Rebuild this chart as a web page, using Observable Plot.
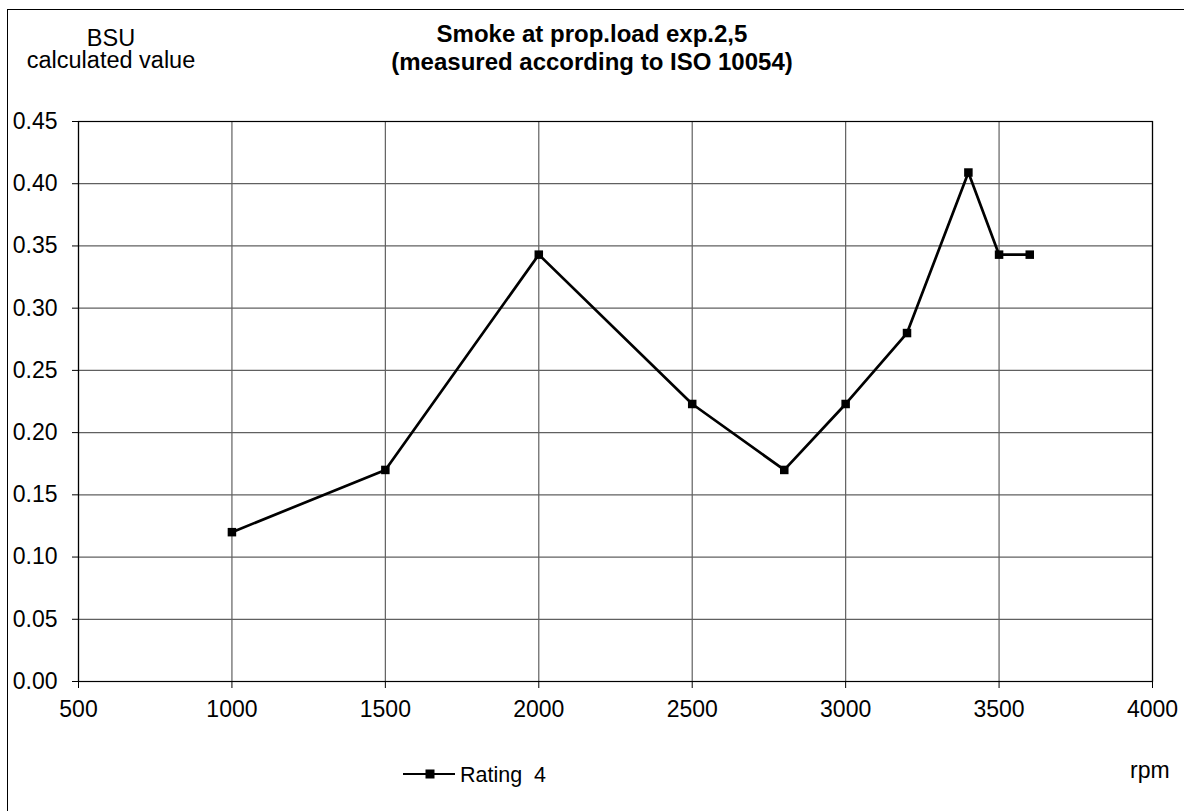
<!DOCTYPE html>
<html>
<head>
<meta charset="utf-8">
<script src="https://cdn.jsdelivr.net/npm/d3@7"></script>
<script src="https://cdn.jsdelivr.net/npm/@observablehq/plot@0.6"></script>
<style>
  html, body { margin: 0; padding: 0; background: #fff; overflow: hidden; }
  #wrap { position: relative; width: 1184px; height: 811px; overflow: hidden; font-family: "Liberation Sans", Arial, sans-serif; color: #000; }
  #frame { position: absolute; left: 7px; top: 9px; width: 1300px; height: 900px; border: 1px solid #000; box-sizing: border-box; }
  .t { position: absolute; font-size: 23px; white-space: pre; }
  #chart { position: absolute; left: 0; top: 0; }
</style>
</head>
<body>
<div id="wrap">
  <div id="frame"></div>
  <div id="chart"></div>
  <div class="t" style="left:11px; top:27px; width:200px; line-height:22px; text-align:center; font-size:23.5px;">BSU
calculated value</div>
  <div class="t" style="left:342px; top:20px; width:500px; line-height:28px; text-align:center; font-weight:bold; font-size:24px;">Smoke at prop.load exp.2,5
(measured according to ISO 10054)</div>
  <div class="t" style="left:1130px; top:759px; line-height:22px;">rpm</div>
</div>
<script>
const rpm = [1000, 1500, 2000, 2500, 2800, 3000, 3200, 3400, 3500, 3600];
const bsu = [0.120, 0.170, 0.343, 0.223, 0.170, 0.223, 0.280, 0.409, 0.343, 0.343];
const seriesName = "Rating  4";
const xTicks = [500, 1000, 1500, 2000, 2500, 3000, 3500, 4000];
const yTicks = [0, 0.05, 0.10, 0.15, 0.20, 0.25, 0.30, 0.35, 0.40, 0.45];

const data = rpm.map((r, i) => ({rpm: r, bsu: bsu[i]}));

const W = 1184, H = 811;
const plot = Plot.plot({
  width: W,
  height: H,
  marginLeft: 78,
  marginRight: 32,
  marginTop: 121,
  marginBottom: 130,
  style: {fontFamily: "'Liberation Sans', Arial, sans-serif", fontSize: "23px", color: "#000", background: "transparent"},
  x: {domain: [500, 4000], label: null},
  y: {domain: [0, 0.45], label: null},
  marks: [
    Plot.gridX(xTicks, {stroke: "#606060", strokeOpacity: 1, strokeWidth: 1.2}),
    Plot.gridY(yTicks, {stroke: "#606060", strokeOpacity: 1, strokeWidth: 1.2}),
    Plot.frame({stroke: "#000", strokeWidth: 1.2}),
    Plot.axisX({ticks: xTicks, tickFormat: d => String(d), tickSize: 7, tickPadding: 12, stroke: "#000", fontSize: 23, label: null}),
    Plot.axisY({ticks: yTicks, tickFormat: d => d.toFixed(2), tickSize: 6, tickPadding: 15, stroke: "#000", fontSize: 23, label: null}),
    Plot.line(data, {x: "rpm", y: "bsu", stroke: "#000", strokeWidth: 2.7}),
    Plot.dot(data, {x: "rpm", y: "bsu", symbol: "square", r: 4.8, fill: "#000", stroke: "none"})
  ]
});
document.getElementById("chart").appendChild(plot);

// legend
const leg = d3.create("svg").attr("width", 220).attr("height", 34)
  .style("position", "absolute").style("left", "400px").style("top", "757px");
leg.append("line").attr("x1", 3).attr("x2", 55).attr("y1", 17).attr("y2", 17).attr("stroke", "#000").attr("stroke-width", 2);
leg.append("rect").attr("x", 25.5).attr("y", 12.5).attr("width", 9).attr("height", 9).attr("fill", "#000");
leg.append("text").attr("x", 60).attr("y", 25).attr("font-size", 21.5).attr("font-family", "'Liberation Sans', Arial, sans-serif")
  .style("white-space", "pre").text(seriesName);
document.getElementById("wrap").appendChild(leg.node());
</script>
</body>
</html>
